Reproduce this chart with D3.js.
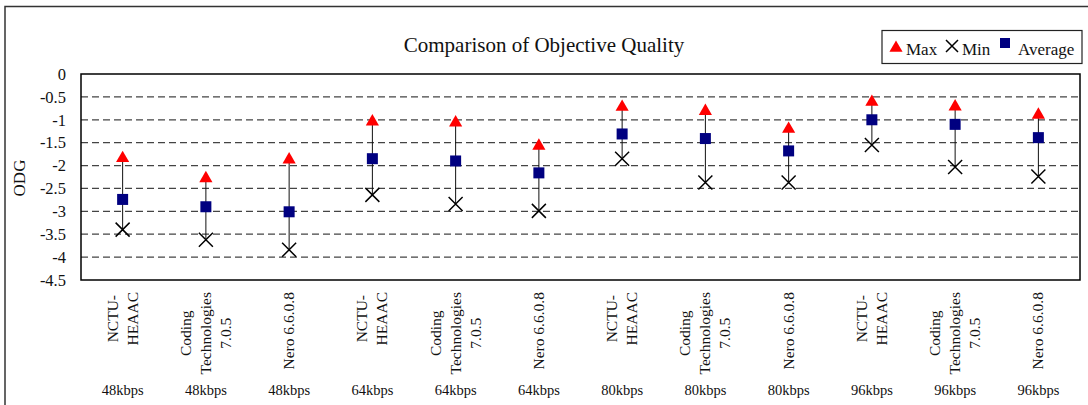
<!DOCTYPE html>
<html>
<head>
<meta charset="utf-8">
<script src="https://cdn.jsdelivr.net/npm/d3@7"></script>
<style>
  html, body { margin: 0; padding: 0; background: #fff; }
  svg { display: block; }
  svg text { font-family: "Liberation Serif", "Times New Roman", serif !important; fill: #111; }
</style>
</head>
<body>
<svg id="chart" width="1088" height="405"></svg>
<script>
// Codec labels (one entry per line of the rotated label) and bit rates
const codecs = [
  ["NCTU-", "HEAAC"], ["Coding", "Technologies", "7.0.5"], ["Nero 6.6.0.8"],
  ["NCTU-", "HEAAC"], ["Coding", "Technologies", "7.0.5"], ["Nero 6.6.0.8"],
  ["NCTU-", "HEAAC"], ["Coding", "Technologies", "7.0.5"], ["Nero 6.6.0.8"],
  ["NCTU-", "HEAAC"], ["Coding", "Technologies", "7.0.5"], ["Nero 6.6.0.8"]
];
const bitrates = ["48kbps", "48kbps", "48kbps", "64kbps", "64kbps", "64kbps",
                  "80kbps", "80kbps", "80kbps", "96kbps", "96kbps", "96kbps"];

// ODG values per codec / bit rate
const maxODG = [-1.82, -2.26, -1.85, -1.02, -1.04, -1.55, -0.70, -0.79, -1.18, -0.59, -0.69, -0.87];
const minODG = [-3.40, -3.62, -3.84, -2.64, -2.84, -2.99, -1.85, -2.37, -2.37, -1.55, -2.03, -2.24];
const avgODG = [-2.74, -2.90, -3.01, -1.85, -1.90, -2.16, -1.31, -1.41, -1.68, -1.00, -1.10, -1.39];

const yTicks = [0, -0.5, -1, -1.5, -2, -2.5, -3, -3.5, -4, -4.5];
const gridValues = [-0.5, -1, -1.5, -2, -2.5, -3, -3.5, -4];

const svg = d3.select("#chart");
const plot = { left: 81, right: 1080, top: 74, bottom: 280 };

const x = d3.scaleBand()
  .domain(d3.range(codecs.length))
  .range([plot.left, plot.right]);
const y = d3.scaleLinear()
  .domain([0, -4.5])
  .range([plot.top, plot.bottom]);
const cx = i => x(i) + x.bandwidth() / 2;

// outer chart border
svg.append("rect")
  .attr("x", 5).attr("y", 6.5)
  .attr("width", 1100).attr("height", 420)
  .attr("fill", "none").attr("stroke", "#333").attr("stroke-width", 1.5);

// title
svg.append("text")
  .attr("x", 544).attr("y", 52)
  .attr("text-anchor", "middle")
  .style("font-size", "21px")
  .text("Comparison of Objective Quality");

// dashed gridlines
svg.append("g").selectAll("line")
  .data(gridValues).join("line")
  .attr("x1", plot.left).attr("x2", plot.right)
  .attr("y1", d => y(d)).attr("y2", d => y(d))
  .attr("stroke", "#444").attr("stroke-width", 1.3)
  .attr("stroke-dasharray", "7,4");

// plot frame
svg.append("rect")
  .attr("x", plot.left).attr("y", plot.top)
  .attr("width", plot.right - plot.left).attr("height", plot.bottom - plot.top)
  .attr("fill", "none").attr("stroke", "#000").attr("stroke-width", 1.5);

// y axis labels
const yAxis = svg.append("g")
  .attr("transform", `translate(${plot.left},0)`)
  .call(d3.axisLeft(y).tickValues(yTicks).tickSize(0).tickPadding(15)
    .tickFormat(d => String(d)));
yAxis.select(".domain").remove();
yAxis.attr("font-family", null);
yAxis.selectAll("text")
  .style("font-size", "16.5px").attr("fill", "#111");

// y axis title
svg.append("text")
  .attr("transform", "translate(25,178) rotate(-90)")
  .attr("text-anchor", "middle")
  .style("font-size", "17px")
  .text("ODG");

// range lines from max to min
svg.append("g").selectAll("line")
  .data(d3.range(codecs.length)).join("line")
  .attr("x1", cx).attr("x2", cx)
  .attr("y1", i => y(maxODG[i])).attr("y2", i => y(minODG[i]))
  .attr("stroke", "#111").attr("stroke-width", 1);

const triSym = d3.symbol().type(d3.symbolTriangle).size(75);
const crossPath = s => `M${-s},${-s}L${s},${s}M${-s},${s}L${s},${-s}`;

// max markers
svg.append("g").selectAll("path")
  .data(d3.range(codecs.length)).join("path")
  .attr("d", triSym)
  .attr("transform", i => `translate(${cx(i)},${y(maxODG[i]) + 1})`)
  .attr("fill", "#ff0000");

// min markers
svg.append("g").selectAll("path")
  .data(d3.range(codecs.length)).join("path")
  .attr("d", crossPath(7))
  .attr("transform", i => `translate(${cx(i)},${y(minODG[i])})`)
  .attr("fill", "none").attr("stroke", "#000").attr("stroke-width", 1.5);

// average markers
svg.append("g").selectAll("rect")
  .data(d3.range(codecs.length)).join("rect")
  .attr("x", i => cx(i) - 5.5).attr("y", i => y(avgODG[i]) - 5.5)
  .attr("width", 11).attr("height", 11)
  .attr("fill", "#000080");

// rotated codec labels: lines centred within their block, block top at the axis
const labelTop = 292;
const lineGap = 20;
codecs.forEach((lines, i) => {
  const g = svg.append("g");
  const texts = lines.map(l => g.append("text")
    .style("font-size", "15.5px")
    .attr("text-anchor", "middle")
    .text(l));
  const maxW = d3.max(texts, t => t.node().getComputedTextLength());
  const n = lines.length;
  texts.forEach((t, k) => {
    const baseX = cx(i) + (k - (n - 1) / 2) * lineGap + 5;
    t.attr("transform", `translate(${baseX},${labelTop + maxW / 2}) rotate(-90)`);
  });
});

// bit-rate labels
svg.append("g").selectAll("text")
  .data(bitrates).join("text")
  .attr("x", (d, i) => cx(i)).attr("y", 395)
  .attr("text-anchor", "middle")
  .style("font-size", "14.5px")
  .text(d => d);

// legend
const lg = svg.append("g");
lg.append("rect")
  .attr("x", 882).attr("y", 30.5).attr("width", 200).attr("height", 33)
  .attr("fill", "#fff").attr("stroke", "#222").attr("stroke-width", 1.2);
lg.append("path").attr("d", triSym)
  .attr("transform", "translate(896,48)").attr("fill", "#ff0000");
lg.append("text").attr("x", 906).attr("y", 55).style("font-size", "17px").text("Max");
lg.append("path").attr("d", crossPath(6))
  .attr("transform", "translate(952,46)")
  .attr("fill", "none").attr("stroke", "#000").attr("stroke-width", 1.5);
lg.append("text").attr("x", 962).attr("y", 55).style("font-size", "17px").text("Min");
lg.append("rect").attr("x", 1000).attr("y", 38).attr("width", 10).attr("height", 10)
  .attr("fill", "#000080");
lg.append("text").attr("x", 1018).attr("y", 55).style("font-size", "17px").text("Average");
</script>
</body>
</html>
